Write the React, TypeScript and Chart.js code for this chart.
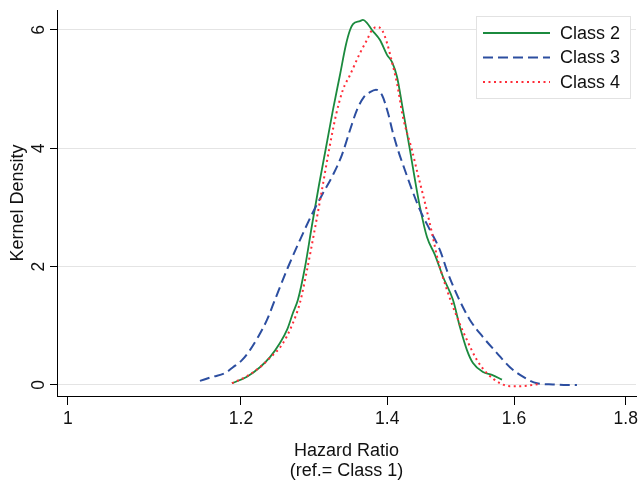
import React, { useEffect, useRef } from "react";
import { Chart, registerables } from "chart.js";
Chart.register(...registerables);

const xTicks = [1, 1.2, 1.4, 1.6, 1.8];
const yTicks = [0, 2, 4, 6];
const seriesLabels = ["Class 2", "Class 3", "Class 4"];

const class2X = [1.1886, 1.2076, 1.2242, 1.2372, 1.2503, 1.2596, 1.2676, 1.2742, 1.2837, 1.2932, 1.3028, 1.3124, 1.3221, 1.3319, 1.3403, 1.3461, 1.3503, 1.3603, 1.3646, 1.3703, 1.3776, 1.3893, 1.3996, 1.4069, 1.4144, 1.4233, 1.4339, 1.4414, 1.449, 1.4598, 1.4721, 1.4846, 1.5003, 1.5114, 1.5226, 1.5323, 1.5485, 1.5633, 1.5798];
const class2Y = [0.03, 0.14, 0.3, 0.47, 0.71, 0.93, 1.22, 1.44, 1.99, 2.7, 3.38, 4.01, 4.65, 5.24, 5.75, 6.0, 6.1, 6.15, 6.17, 6.12, 6.0, 5.83, 5.58, 5.46, 5.21, 4.65, 3.97, 3.47, 3.01, 2.5, 2.2, 1.83, 1.44, 0.98, 0.59, 0.37, 0.22, 0.17, 0.09];

const class3X = [1.1492, 1.1651, 1.1799, 1.1899, 1.2012, 1.2114, 1.2217, 1.2333, 1.2437, 1.2609, 1.2769, 1.2945, 1.3082, 1.3221, 1.3347, 1.3461, 1.356, 1.3661, 1.3747, 1.3834, 1.3922, 1.401, 1.4084, 1.4159, 1.4263, 1.4369, 1.449, 1.4644, 1.4799, 1.4924, 1.5082, 1.5274, 1.5485, 1.5715, 1.5932, 1.6151, 1.6391, 1.667, 1.6918, 1.7097];
const class3Y = [0.07, 0.14, 0.2, 0.3, 0.42, 0.59, 0.81, 1.1, 1.44, 1.99, 2.45, 2.92, 3.24, 3.55, 3.89, 4.31, 4.65, 4.87, 4.95, 4.99, 4.9, 4.6, 4.26, 3.97, 3.63, 3.3, 2.96, 2.62, 2.28, 1.89, 1.49, 1.1, 0.81, 0.54, 0.3, 0.14, 0.03, 0.01, 0.0, 0.0];

const class4X = [1.1886, 1.2076, 1.2242, 1.2372, 1.2529, 1.2662, 1.2769, 1.2864, 1.2973, 1.3069, 1.3166, 1.3263, 1.3361, 1.3461, 1.3603, 1.3703, 1.3776, 1.3849, 1.3922, 1.3996, 1.4069, 1.4144, 1.4233, 1.4369, 1.446, 1.4567, 1.4675, 1.4768, 1.4908, 1.5066, 1.5226, 1.5388, 1.5551, 1.5765, 1.5932, 1.61, 1.6322, 1.6443];
const class4Y = [0.03, 0.15, 0.3, 0.46, 0.68, 1.01, 1.39, 1.94, 2.65, 3.3, 3.97, 4.56, 4.99, 5.24, 5.61, 5.83, 6.0, 6.05, 6.0, 5.78, 5.46, 5.1, 4.53, 3.97, 3.55, 3.08, 2.57, 2.11, 1.61, 1.15, 0.76, 0.42, 0.2, 0.03, -0.02, -0.02, 0.0, 0.02];

const FONT = "'Liberation Sans', Arial, sans-serif";
const TEXT = "#111";

export default function App() {
  const ref = useRef<HTMLCanvasElement>(null);

  useEffect(() => {
    if (!ref.current) return;
    const toPts = (xs: number[], ys: number[]) => xs.map((x, i) => ({ x, y: ys[i] }));

    const yLabelPlugin = {
      id: "yRotLabels",
      afterDraw(chart: any) {
        const ctx = chart.ctx;
        const s = chart.scales.y;
        ctx.save();
        ctx.font = `17.5px ${FONT}`;
        ctx.fillStyle = TEXT;
        ctx.textAlign = "center";
        ctx.textBaseline = "alphabetic";
        for (const t of s.ticks) {
          const y = s.getPixelForValue(t.value);
          ctx.save();
          ctx.translate(44, y);
          ctx.rotate(-Math.PI / 2);
          ctx.fillText(String(t.value), 0, 0);
          ctx.restore();
        }
        ctx.restore();
      },
    };

    const legendPlugin = {
      id: "insideLegend",
      afterDraw(chart: any) {
        const ctx = chart.ctx;
        const bx = 476, by = 16, bw = 154, bh = 82;
        ctx.save();
        ctx.fillStyle = "#fff";
        ctx.fillRect(bx, by, bw, bh);
        ctx.strokeStyle = "#e2e2e2";
        ctx.lineWidth = 1;
        ctx.strokeRect(bx + 0.5, by + 0.5, bw, bh);
        chart.data.datasets.forEach((ds: any, i: number) => {
          const cy = 33 + i * 24.5;
          ctx.beginPath();
          ctx.strokeStyle = ds.borderColor;
          ctx.lineWidth = ds.borderWidth;
          ctx.setLineDash(ds.borderDash || []);
          ctx.moveTo(483, cy);
          ctx.lineTo(550, cy);
          ctx.stroke();
          ctx.setLineDash([]);
          ctx.fillStyle = TEXT;
          ctx.font = `18px ${FONT}`;
          ctx.textAlign = "left";
          ctx.textBaseline = "middle";
          ctx.fillText(ds.label, 560, cy + 1);
        });
        ctx.restore();
      },
    };

    const chart = new Chart(ref.current, {
      type: "line",
      data: {
        datasets: [
          {
            label: seriesLabels[0],
            data: toPts(class2X, class2Y),
            borderColor: "#1b8a3e",
            borderWidth: 1.8,
            borderDash: [],
            order: 3,
          },
          {
            label: seriesLabels[1],
            data: toPts(class3X, class3Y),
            borderColor: "#2c4ea0",
            borderWidth: 2,
            borderDash: [10, 5],
            order: 2,
          },
          {
            label: seriesLabels[2],
            data: toPts(class4X, class4Y),
            borderColor: "#ff2c38",
            borderWidth: 2,
            borderDash: [2, 3.5],
            order: 1,
          },
        ] as any,
      },
      options: {
        animation: false,
        responsive: false,
        devicePixelRatio: 1,
        layout: { padding: { top: 10, right: 2, bottom: 0, left: 0 } },
        plugins: { legend: { display: false }, tooltip: { enabled: false } },
        elements: {
          point: { radius: 0 },
          line: { cubicInterpolationMode: "monotone", fill: false },
        },
        scales: {
          x: {
            type: "logarithmic",
            min: 0.9885,
            max: 1.8195,
            afterBuildTicks: (s: any) => {
              s.ticks = xTicks.map((v) => ({ value: v }));
            },
            afterFit: (s: any) => {
              s.height = 85;
              s.paddingLeft = 0;
              s.paddingRight = 0;
            },
            ticks: {
              callback: (v: any) => String(v),
              font: { family: FONT, size: 17.5 },
              color: TEXT,
              padding: 4,
              maxRotation: 0,
              minRotation: 0,
              autoSkip: false,
            },
            grid: { drawOnChartArea: false, tickLength: 9, tickColor: "#000", tickWidth: 1 },
            border: { display: true, color: "#000", width: 1 },
            title: {
              display: true,
              text: ["Hazard Ratio", "(ref.= Class 1)"],
              font: { family: FONT, size: 18, lineHeight: 1.1 },
              color: TEXT,
              padding: { top: 0, bottom: 0 },
            },
          },
          y: {
            type: "linear",
            min: -0.186,
            max: 6.338,
            afterBuildTicks: (s: any) => {
              s.ticks = yTicks.map((v) => ({ value: v }));
            },
            afterFit: (s: any) => {
              s.width = 57;
              s.paddingTop = 0;
              s.paddingBottom = 0;
            },
            ticks: { display: false },
            grid: { color: "#e4e4e4", tickColor: "#000", tickLength: 7, lineWidth: 1 },
            border: { display: true, color: "#000", width: 1 },
            title: {
              display: true,
              text: "Kernel Density",
              font: { family: FONT, size: 18, lineHeight: 1.1 },
              color: TEXT,
              padding: { top: 8, bottom: 0 },
            },
          },
        },
      } as any,
      plugins: [yLabelPlugin, legendPlugin],
    });
    return () => chart.destroy();
  }, []);

  return (
    <div style={{ position: "absolute", left: 0, top: 0, width: 638, height: 481, background: "#fff" }}>
      <canvas ref={ref} width={638} height={481} style={{ display: "block" }} />
    </div>
  );
}
